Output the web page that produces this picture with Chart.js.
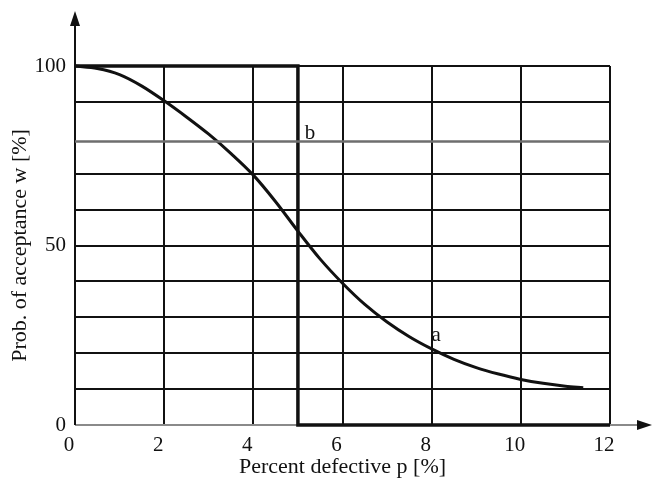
<!DOCTYPE html>
<html>
<head>
<meta charset="utf-8">
<script src="https://cdn.jsdelivr.net/npm/chart.js@4/dist/chart.umd.min.js"></script>
<style>
  html, body { margin: 0; padding: 0; background: #fff; }
</style>
</head>
<body>
<canvas id="ocChart" width="653" height="480"></canvas>
<script>
// curve a: real operating characteristic
const defectA = [0, 0.5, 1, 1.5, 2, 2.5, 3, 3.5, 4, 4.5, 5, 5.5, 6, 6.5, 7, 7.5, 8, 8.5, 9, 9.5, 10, 10.5, 11, 11.4];
const acceptA = [100, 99.3, 97.6, 94.4, 90.3, 85.8, 81, 75.6, 69.6, 62.2, 54, 46.2, 39.5, 33.6, 28.7, 24.6, 21.2, 18.3, 16, 14.2, 12.7, 11.6, 10.8, 10.4];
// curve b: ideal characteristic
const defectB = [0, 5, 5, 12];
const acceptB = [100, 100, 0, 0];
// gray reference level
const levelX = [0, 12];
const levelY = [79, 79];
const yTickLabels = [0, 50, 100];
const curveNames = ['a', 'b'];
const nameX = [8.1, 5.27];
const nameY = [24.8, 81.3];

const SERIF = '"Liberation Serif", "Times New Roman", serif';

function toPoints(xs, ys) {
  return xs.map((x, i) => ({ x, y: ys[i] }));
}

const axesPlugin = {
  id: 'axes',
  beforeDatasetsDraw(chart) {
    const ctx = chart.ctx;
    const xs = chart.scales.x, ys = chart.scales.y;
    const x0 = xs.getPixelForValue(0);
    const y0 = ys.getPixelForValue(0);
    ctx.save();
    // x axis (gray) with arrow
    ctx.strokeStyle = '#8a8a8a';
    ctx.lineWidth = 2;
    ctx.beginPath();
    ctx.moveTo(x0, y0);
    ctx.lineTo(640, y0);
    ctx.stroke();
    ctx.fillStyle = '#111';
    ctx.beginPath();
    ctx.moveTo(652, y0);
    ctx.lineTo(637, y0 - 5);
    ctx.lineTo(637, y0 + 5);
    ctx.closePath();
    ctx.fill();
    // y axis with arrow
    ctx.strokeStyle = '#111';
    ctx.beginPath();
    ctx.moveTo(x0, y0);
    ctx.lineTo(x0, 24);
    ctx.stroke();
    ctx.beginPath();
    ctx.moveTo(x0, 11);
    ctx.lineTo(x0 - 5, 26);
    ctx.lineTo(x0 + 5, 26);
    ctx.closePath();
    ctx.fill();
    ctx.restore();
  },
  afterDatasetsDraw(chart) {
    const ctx = chart.ctx;
    const xs = chart.scales.x, ys = chart.scales.y;
    ctx.save();
    ctx.fillStyle = '#111';
    ctx.font = '21px ' + SERIF;
    ctx.textAlign = 'center';
    ctx.textBaseline = 'middle';
    curveNames.forEach((n, i) => {
      ctx.fillText(n, xs.getPixelForValue(nameX[i]), ys.getPixelForValue(nameY[i]));
    });
    ctx.restore();
  }
};

new Chart(document.getElementById('ocChart'), {
  type: 'line',
  data: {
    datasets: [
      {
        label: 'level',
        data: toPoints(levelX, levelY),
        borderColor: '#6e6e6e',
        borderWidth: 2.5,
        pointRadius: 0,
        clip: false,
      },
      {
        label: 'a',
        data: toPoints(defectA, acceptA),
        borderColor: '#111',
        borderWidth: 3,
        pointRadius: 0,
        cubicInterpolationMode: 'monotone',
        clip: false,
      },
      {
        label: 'b',
        data: toPoints(defectB, acceptB),
        borderColor: '#111',
        borderWidth: 3.5,
        pointRadius: 0,
        clip: false,
      },
    ],
  },
  options: {
    responsive: false,
    animation: false,
    layout: { padding: { top: 66, right: 43, bottom: 0, left: 0 } },
    plugins: {
      legend: { display: false },
      tooltip: { enabled: false },
    },
    scales: {
      x: {
        type: 'linear',
        min: 0,
        max: 12,
        afterFit: (s) => { s.height = 55; },
        border: { display: false },
        grid: {
          color: (c) => c.tick.value === 0 ? 'rgba(0,0,0,0)' : '#111',
          lineWidth: 2,
          drawTicks: false,
        },
        ticks: {
          stepSize: 2,
          padding: 8,
          labelOffset: -6,
          color: '#111',
          font: { family: SERIF, size: 21 },
        },
        title: {
          display: true,
          text: 'Percent defective p [%]',
          color: '#111',
          font: { family: SERIF, size: 22 },
          padding: { top: 0, bottom: 0 },
        },
      },
      y: {
        type: 'linear',
        min: 0,
        max: 100,
        afterFit: (s) => { s.width = 75; },
        border: { display: false },
        grid: {
          color: (c) => (c.tick.value === 0 || c.tick.value === 80) ? 'rgba(0,0,0,0)' : '#111',
          lineWidth: 2,
          drawTicks: false,
        },
        ticks: {
          stepSize: 10,
          padding: 9,
          color: '#111',
          font: { family: SERIF, size: 21 },
          callback: (v) => yTickLabels.includes(v) ? String(v) : '',
        },
        title: {
          display: true,
          text: 'Prob. of acceptance w [%]',
          color: '#111',
          font: { family: SERIF, size: 22 },
          padding: { top: 7, bottom: 0 },
        },
      },
    },
  },
  plugins: [axesPlugin],
});
</script>
</body>
</html>
